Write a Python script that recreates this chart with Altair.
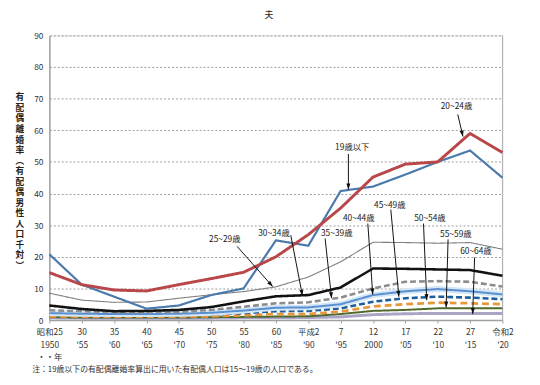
import json
import math
import altair as alt
import pandas as pd

# ---------------- data ----------------
years = [1950, 1955, 1960, 1965, 1970, 1975, 1980, 1985, 1990, 1995, 2000, 2005, 2010, 2015, 2020]
label_top = ["昭和25", "30", "35", "40", "45", "50", "55", "60", "平成2", "7", "12", "17", "22", "27", "令和2"]
label_bottom = ["1950", "'55", "'60", "'65", "'70", "'75", "'80", "'85", "'90", "'95", "2000", "'05", "'10", "'15", "'20"]
label_extra = "・・年"

s_u19 = [20.8, 11.2, 7.4, 3.6, 4.6, 7.9, 10.0, 25.2, 23.5, 40.8, 42.2, 46.0, 50.0, 53.6, 45.0]
s_20_24 = [15.0, 11.2, 9.5, 9.2, 11.2, 13.1, 15.1, 20.0, 27.0, 35.4, 45.2, 49.3, 50.0, 59.0, 53.0]
s_25_29 = [8.5, 6.3, 5.6, 5.7, 6.9, 8.0, 9.0, 10.5, 13.6, 18.4, 24.6, 24.5, 24.3, 24.5, 22.4]
s_30_34 = [4.6, 3.5, 2.8, 2.9, 3.2, 4.1, 5.9, 7.5, 7.9, 10.3, 16.3, 16.2, 16.0, 15.8, 14.0]
s_35_39 = [3.1, 2.8, 2.5, 2.5, 2.6, 3.2, 4.2, 5.3, 5.6, 7.1, 10.0, 12.1, 12.3, 12.1, 10.6]
s_40_44 = [2.2, 2.0, 1.9, 1.9, 2.0, 2.3, 3.0, 3.9, 4.0, 5.0, 7.9, 9.1, 9.8, 9.1, 8.1]
s_45_49 = [1.8, 1.7, 1.6, 1.6, 1.6, 1.8, 2.2, 2.8, 2.9, 3.7, 5.8, 6.9, 7.4, 7.1, 6.6]
s_50_54 = [1.2, 1.1, 1.1, 1.1, 1.1, 1.2, 1.5, 1.9, 1.9, 2.7, 4.3, 5.0, 5.5, 5.3, 5.0]
s_55_59 = [0.9, 0.8, 0.8, 0.8, 0.8, 0.9, 1.0, 1.1, 1.2, 1.9, 2.9, 3.2, 3.7, 3.7, 3.7]
s_60_64 = [0.7, 0.6, 0.6, 0.6, 0.6, 0.6, 0.7, 0.7, 0.8, 1.0, 1.7, 2.0, 2.1, 2.1, 2.1]

series_names = ["60~64歳", "55~59歳", "50~54歳", "45~49歳", "40~44歳", "35~39歳",
                "30~34歳", "25~29歳", "19歳以下", "20~24歳"]
series_values = [s_60_64, s_55_59, s_50_54, s_45_49, s_40_44, s_35_39,
                 s_30_34, s_25_29, s_u19, s_20_24]

# styles (colour, width, dash)
series_colors = ["#aaa4c6", "#4f6a2c", "#e8963c", "#1f5e9c", "#5a8fcf", "#8c8c8c",
                 "#111111", "#7f7f7f", "#4a7aab", "#b9474a"]
series_widths = [3, 2, 2.8, 2.6, 2, 2.6, 2.6, 1.1, 2.2, 3]
series_dash = [[1, 0], [1, 0], [7, 4], [6, 3], [1, 0], [6, 3], [1, 0], [1, 0], [1, 0], [1, 0]]

# annotations
ann_text = ["20~24歳", "19歳以下", "25~29歳", "30~34歳", "35~39歳",
            "40~44歳", "45~49歳", "50~54歳", "55~59歳", "60~64歳"]
ann_year = [2012.9, 1996.8, 1977.1, 1984.7, 1994.4, 1997.8, 2002.6, 2008.8, 2012.8, 2015.9]
ann_value = [67.6, 54.6, 25.5, 27.6, 27.4, 32.1, 36.4, 32.3, 27.3, 21.7]
arr_year1 = [2013.1, 1996.2, 1979.0, 1987.3, 1992.6, 1999.2, 2002.75, 2007.8, 2011.6, 2015.7]
arr_value1 = [65.0, 52.5, 23.3, 26.8, 25.8, 30.5, 34.9, 30.5, 25.5, 19.8]
arr_year2 = [2013.9, 1996.2, 1984.5, 1989.1, 1993.6, 1999.96, 2004.0, 2008.3, 2011.3, 2015.4]
arr_value2 = [58.0, 41.3, 10.6, 7.7, 6.9, 8.1, 7.4, 6.3, 4.0, 1.9]

y_ticks = [0, 10, 20, 30, 40, 50, 60, 70, 80, 90]
y_title_chars = ["有", "配", "偶", "離", "婚", "率", "︵", "有", "配", "偶", "男", "性", "人", "口", "千", "対", "︶"]
chart_title = "夫"
note = "注：19歳以下の有配偶離婚率算出に用いた有配偶人口は15～19歳の人口である。"

# ---------------- layout ----------------
W, H = 460, 289
X0, X1 = 1950, 2020
Y0, Y1 = 0, 90
FONT = "Noto Sans CJK JP"

labels_arr = []
for i, (a, b) in enumerate(zip(label_top, label_bottom)):
    labels_arr.append([a, b, label_extra] if i == 0 else [a, b])
label_expr = "{}[indexof({}, datum.value)]".format(
    json.dumps(labels_arr, ensure_ascii=False), json.dumps(years))

x_enc = alt.X(
    "year:Q",
    scale=alt.Scale(domain=[X0, X1], nice=False, zero=False),
    axis=alt.Axis(
        values=years, labelExpr=label_expr, grid=False,
        domainColor="#a0a0a0", domainWidth=1.5,
        tickColor="#a0a0a0", tickSize=3, tickWidth=1,
        labelFontSize=8.5, labelColor="#333333", labelLineHeight=13,
        labelPadding=4.5, labelFlush=False, labelOverlap=False, labelFont=FONT,
        title=note, titleFontSize=8, titleFontWeight="normal", titleColor="#333333",
        titleFont=FONT, titleAngle=0, titleAlign="left", titleBaseline="middle",
        titleX=-18, titleY=50,
    ),
)
y_enc = alt.Y(
    "value:Q",
    scale=alt.Scale(domain=[Y0, Y1], nice=False, zero=True),
    axis=alt.Axis(
        values=y_ticks, grid=True, gridDash=[2, 2], gridColor="#9a9a9a", gridWidth=1,
        domainColor="#a0a0a0", domainWidth=1.5, ticks=False,
        labelFontSize=8.5, labelColor="#333333", labelPadding=6.5, labelFont=FONT,
        title=None,
    ),
)

layers = []

# right border
border_df = pd.DataFrame({"year": [X1], "value": [Y0], "value2": [Y1]})
layers.append(
    alt.Chart(border_df).mark_rule(color="#b0b0b0", strokeWidth=1).encode(
        x=x_enc, y=y_enc, y2="value2:Q")
)

# series lines
for name, vals, col, w, d in zip(series_names, series_values, series_colors,
                                 series_widths, series_dash):
    df = pd.DataFrame({"year": years, "value": vals, "series": name})
    if name == "40~44歳":
        layers.append(
            alt.Chart(df).mark_line(color="#d3e6f6", strokeWidth=6).encode(x=x_enc, y=y_enc)
        )
    layers.append(
        alt.Chart(df).mark_line(color=col, strokeWidth=w, strokeDash=d).encode(x=x_enc, y=y_enc)
    )

# arrows
arrow_df = pd.DataFrame({"year": arr_year1, "value": arr_value1,
                         "year2": arr_year2, "value2": arr_value2})
layers.append(
    alt.Chart(arrow_df).mark_rule(color="#111111", strokeWidth=1).encode(
        x=x_enc, y=y_enc, x2="year2:Q", y2="value2:Q")
)

angles = []
for xa, ya, xb, yb in zip(arr_year1, arr_value1, arr_year2, arr_value2):
    dx = (xb - xa) * W / (X1 - X0)
    dy = -(yb - ya) * H / (Y1 - Y0)
    angles.append(math.degrees(math.atan2(dx, -dy)) % 360)
head_df = pd.DataFrame({"year": arr_year2, "value": arr_value2, "angle": angles})
layers.append(
    alt.Chart(head_df).mark_point(
        shape="M0,0L-0.75,2.2L0.75,2.2Z", filled=True, color="#111111",
        size=30, opacity=1, strokeWidth=0,
    ).encode(x=x_enc, y=y_enc, angle=alt.Angle("angle:Q", scale=None))
)

# labels
lab_df = pd.DataFrame({"year": ann_year, "value": ann_value, "text": ann_text})
layers.append(
    alt.Chart(lab_df).mark_text(fontSize=8.5, color="#222222", font=FONT,
                                align="center", baseline="middle").encode(
        x=x_enc, y=y_enc, text="text:N")
)

# vertical y-axis title (stacked characters)
ytitle_df = pd.DataFrame({"t": ["\n".join(y_title_chars)]})
layers.append(
    alt.Chart(ytitle_df).mark_text(
        fontSize=8.8, fontWeight="bold", color="#222222", font=FONT,
        align="center", baseline="top", lineBreak="\n", lineHeight=10.7,
    ).encode(x=alt.value(-30), y=alt.value(59), text="t:N")
)

chart = alt.layer(*layers).properties(
    width=W, height=H,
    autosize=alt.AutoSizeParams(type="none"),
    padding={"left": 42, "top": 25, "right": 30, "bottom": 55},
    title=alt.TitleParams(chart_title, fontSize=9, fontWeight="normal", color="#222222",
                          font=FONT, anchor="middle", frame="group", offset=3,
                          baseline="bottom", dx=-7),
).configure_view(stroke=None).configure(font=FONT, background="white")

chart.save("out.html", embed_options={"renderer": "svg", "actions": False})
